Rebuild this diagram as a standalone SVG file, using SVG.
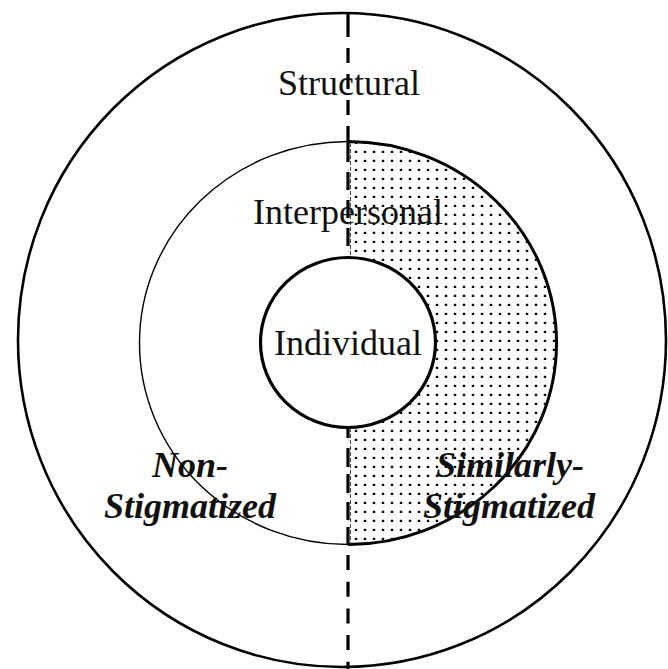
<svg xmlns="http://www.w3.org/2000/svg" width="668" height="669" viewBox="0 0 668 669">
  <style>
    .ring { fill: none; stroke: #000; }
    .lbl { font-family: "Liberation Serif", "Times New Roman", serif; font-size: 36px; fill: #111; text-anchor: middle; }
    .grp { font-weight: bold; font-style: italic; }
    .divider { stroke: #000; stroke-width: 3.2; fill: none; }
  </style>
  <defs>
    <pattern id="dots" patternUnits="userSpaceOnUse" x="0" y="0" width="9" height="9">
      <rect x="3.8" y="6.8" width="2.4" height="2.4" fill="#000"/>
    </pattern>
  </defs>
  <rect width="668" height="669" fill="#fff"/>

  <g id="structural">
    <ellipse class="ring" cx="342" cy="340" rx="324" ry="327" stroke-width="2.6"/>
    <text class="lbl" x="349" y="95">Structural</text>
  </g>

  <g id="interpersonal">
    <path d="M348 141.5 A208.5 201.5 0 0 1 348 544.5 L348 427.5 A87.5 85 0 0 0 348 257.5 Z" fill="url(#dots)"/>
    <path class="ring" d="M348 141.5 A208.5 201.5 0 0 0 348 544.5" stroke="#222" stroke-width="1.4"/>
    <path class="ring" d="M348 141.5 A208.5 201.5 0 0 1 348 544.5" stroke-width="3"/>
    <text class="lbl" x="348" y="224">Interpersonal</text>
  </g>

  <g id="individual">
    <ellipse cx="348" cy="342.5" rx="87.5" ry="85" fill="#fff" stroke="#000" stroke-width="3.2"/>
    <text class="lbl" x="348" y="355">Individual</text>
  </g>

  <g id="connectors">
    <line class="divider" x1="348" y1="14" x2="348" y2="142" stroke-dasharray="23 11 15 11 15 11 15 11 15 11"/>
    <line class="divider" x1="348" y1="142" x2="348" y2="258" stroke-dasharray="20 10 18 10 18 10 18 10 18"/>
    <line class="divider" x1="348" y1="428" x2="348" y2="545" stroke-dasharray="10 10 19 7 19 9 18 7 18"/>
    <line class="divider" x1="348" y1="555" x2="348" y2="669" stroke-dasharray="15 11.7"/>
    <line x1="350.5" y1="143" x2="350.5" y2="257" stroke="#444" stroke-width="1" stroke-dasharray="4 2"/>
    <line x1="350.5" y1="428" x2="350.5" y2="544" stroke="#444" stroke-width="1" stroke-dasharray="4 2"/>
  </g>

  <g id="non-stigmatized">
    <text class="lbl grp" x="190" y="477">Non-</text>
    <text class="lbl grp" x="190" y="518">Stigmatized</text>
  </g>

  <g id="similarly-stigmatized">
    <text class="lbl grp" x="510" y="477">Similarly-</text>
    <text class="lbl grp" x="509" y="518">Stigmatized</text>
  </g>
</svg>
